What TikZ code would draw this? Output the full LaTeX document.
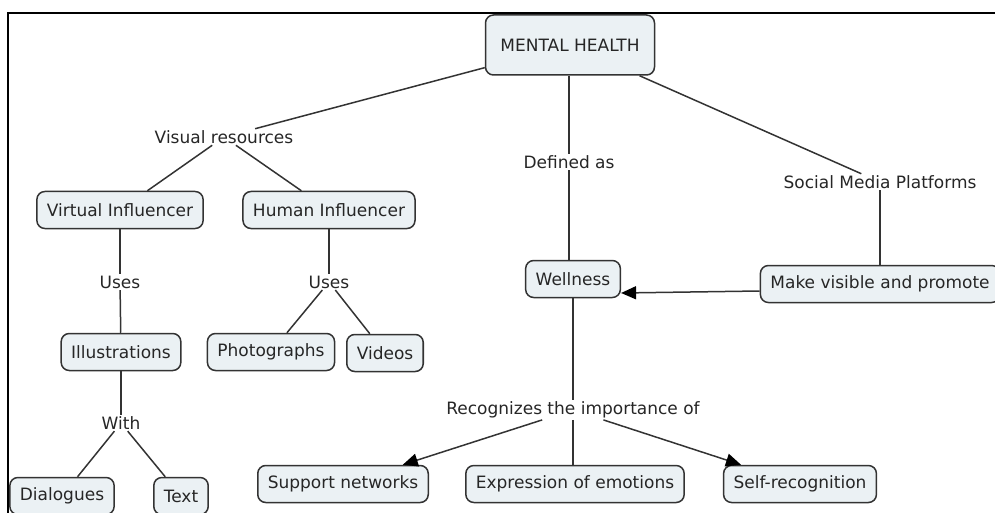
\documentclass[tikz,border=0pt]{standalone}
\usepackage{fontspec}
\setmainfont{DejaVu Sans}
\usepackage{tikz}
\usetikzlibrary{arrows.meta}
\definecolor{conceptfill}{HTML}{EBF1F4}
\definecolor{conceptdraw}{HTML}{333333}
\tikzstyle{concept} = [rectangle, rounded corners=8pt, minimum height=37pt, inner xsep=10pt, text centered, draw=conceptdraw, line width=1.5pt, fill=conceptfill, text=black!85, font=\fontsize{17}{20}\selectfont]
\tikzstyle{linking} = [inner sep=1.5pt, text=black!85, font=\fontsize{17}{20}\selectfont]
\tikzstyle{line} = [draw=conceptdraw, line width=1.5pt]
\tikzstyle{arrow} = [line, ->, >={Triangle[length=15pt, width=13pt, color=black]}]

\begin{document}
\begin{tikzpicture}[x=1pt, y=-1pt]
        \clip (0,0) rectangle (995,513);
        \draw [line width=2.2pt] (995,13) -- (8,13) -- (8,513);

        \node (mental_health) [concept, minimum width=169pt, minimum height=60pt] at (570,45) {MENTAL HEALTH};
        \node (visual_res) [linking] at (224,137) {Visual resources};
        \node (virtual_inf) [concept] at (120,210) {Virtual Influencer};
        \node (human_inf) [concept] at (329,210) {Human Influencer};
        \node (uses_virtual) [linking] at (120,282) {Uses};
        \node (uses_human) [linking] at (329,282) {Uses};
        \node (illustrations) [concept] at (121,352) {Illustrations};
        \node (photographs) [concept] at (271,352) {Photographs};
        \node (videos) [concept] at (385,353) {Videos};
        \node (with) [linking] at (121,423) {With};
        \node (dialogues) [concept] at (62,496) {Dialogues};
        \node (text_box) [concept] at (181,496) {Text};
        \node (defined_as) [linking] at (569,162) {Defined as};
        \node (wellness) [concept] at (573,279) {Wellness};
        \node (social_media) [linking] at (880,182) {Social Media Platforms};
        \node (make_visible) [concept] at (880,284) {Make visible and promote};
        \node (recognizes) [linking] at (573,410) {Recognizes the importance of};
        \node (support_net) [concept] at (343,484) {Support networks};
        \node (expression) [concept] at (575,484) {Expression of emotions};
        \node (self_recog) [concept] at (800,484) {Self-recognition};

        \draw [line] (mental_health) -- (visual_res);
        \draw [line] (visual_res) -- (virtual_inf);
        \draw [line] (visual_res) -- (human_inf);
        \draw [line] (virtual_inf) -- (uses_virtual);
        \draw [line] (uses_virtual) -- (illustrations);
        \draw [line] (illustrations) -- (with);
        \draw [line] (with) -- (dialogues);
        \draw [line] (with) -- (text_box);
        \draw [line] (human_inf) -- (uses_human);
        \draw [line] (uses_human) -- (photographs);
        \draw [line] (uses_human) -- (videos);
        \draw [line] (mental_health.south -| defined_as) -- (defined_as);
        \draw [line] (defined_as) -- (defined_as |- wellness.north);
        \draw [line] (mental_health) -- (social_media);
        \draw [line] (social_media) -- (social_media |- make_visible.north);
        \draw [arrow] ([yshift=-7pt]make_visible.west) -- ([yshift=-14pt]wellness.east);
        \draw [line] (wellness) -- (recognizes);
        \draw [arrow] (recognizes) -- (support_net);
        \draw [line] (recognizes.south) -- (recognizes.south |- expression.north);
        \draw [arrow] (recognizes) -- (self_recog);
    \end{tikzpicture}
\end{document}
